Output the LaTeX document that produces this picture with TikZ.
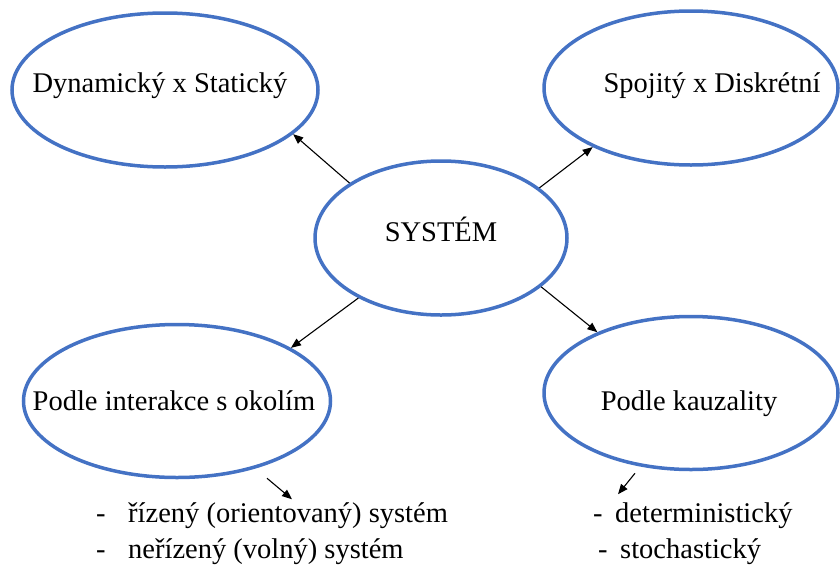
\documentclass[tikz,border=0pt]{standalone}
\usepackage{fontspec}
\setmainfont{Liberation Serif}
\newfontfamily\tnr{Liberation Serif}
\usetikzlibrary{shapes.geometric,arrows.meta}
\definecolor{ellblue}{RGB}{68,114,196}
\begin{document}
\begin{tikzpicture}[x=1pt,y=-1pt,
  ell/.style={draw=ellblue, line width=3.5pt, ellipse, inner sep=0pt, fill=none},
  lbl/.style={inner sep=0pt, anchor=base, font=\tnr\fontsize{28.5}{34}\selectfont},
  item/.style={inner sep=0pt, anchor=base west, font=\tnr\fontsize{28.5}{34}\selectfont},
  arr/.style={-{Triangle[length=10pt,width=8pt]}, line width=1.1pt, black}]
\useasboundingbox (0,0) rectangle (840,568);
% ellipses
\node[ell, minimum width=306pt, minimum height=154pt] (tl) at (165,90) {};
\node[ell, minimum width=294pt, minimum height=154pt] (tr) at (691,88) {};
\node[ell, minimum width=252pt, minimum height=154pt] (c) at (441,238) {};
\node[ell, minimum width=307pt, minimum height=153pt] (bl) at (177,401) {};
\node[ell, minimum width=294pt, minimum height=153pt] (br) at (691,393) {};
% ellipse texts
\node[lbl] (tlt) at (160,92) {Dynamický x Statický};
\node[lbl] (trt) at (712,92) {Spojitý x Diskrétní};
\node[lbl] (ct) at (441,241) {SYSTÉM};
\node[lbl] (blt) at (174,410) {Podle interakce s okolím};
\node[lbl] (brt) at (689,410) {Podle kauzality};
% connectors
\draw[arr] (c.149) -- (tl.-19);
\draw[arr] (c.27) -- (tr.-149);
\draw[arr] (c.216) -- (bl.25);
\draw[arr] (c.-26) -- (br.147);
\draw[arr] (bl.south) ++(90,-1) -- ++(25,21);
\draw[arr] (br.south) ++(-56,2) -- ++(-17,21);
% lists
\node[item] (d1) at (96,522) {-};
\node[item] (i1) at (128,522) {řízený (orientovaný) systém};
\node[item] (d2) at (96,558) {-};
\node[item] (i2) at (128,558) {neřízený (volný) systém};
\node[item] (d3) at (593,522) {-};
\node[item] (i3) at (615,522) {deterministický};
\node[item] (d4) at (598,558) {-};
\node[item] (i4) at (620,558) {stochastický};
\end{tikzpicture}
\end{document}
